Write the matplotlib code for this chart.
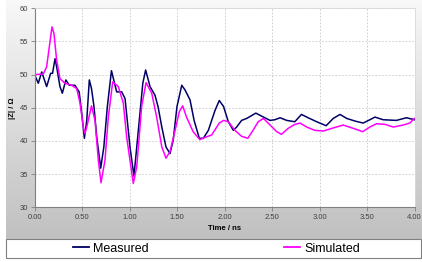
import numpy as np
import matplotlib
matplotlib.use("Agg")
import matplotlib.pyplot as plt
from matplotlib.lines import Line2D
from matplotlib.patches import Rectangle
from matplotlib.colors import LinearSegmentedColormap

plt.rcParams['font.family'] = ['Liberation Sans', 'DejaVu Sans']

# Measured series (time ns, |Z| ohm)
meas_t = [0.0, 0.04, 0.076, 0.128, 0.17, 0.19, 0.216, 0.233, 0.268, 0.293, 0.33, 0.366,
          0.426, 0.47, 0.497, 0.525, 0.55, 0.577, 0.60, 0.626, 0.655, 0.697, 0.73, 0.767,
          0.81, 0.865, 0.918, 0.953, 1.005, 1.047, 1.093, 1.14, 1.17, 1.216, 1.268, 1.30,
          1.34, 1.384, 1.426, 1.46, 1.50, 1.55, 1.584, 1.637, 1.68, 1.735, 1.777, 1.83,
          1.90, 1.945, 1.99, 2.04, 2.093, 2.128, 2.18, 2.234, 2.33, 2.41, 2.48, 2.53,
          2.585, 2.655, 2.74, 2.81, 2.88, 2.97, 3.07, 3.145, 3.216, 3.286, 3.374, 3.46,
          3.53, 3.584, 3.67, 3.81, 3.915, 4.0]
meas_z = [50.0, 48.7, 50.4, 48.2, 50.2, 50.2, 52.4, 51.2, 48.2, 47.2, 49.2, 48.4,
          48.4, 47.4, 44.2, 40.4, 43.1, 49.2, 47.9, 45.2, 40.6, 35.9, 39.1, 45.2,
          50.6, 47.4, 47.4, 46.4, 39.1, 34.7, 41.6, 48.7, 50.7, 48.2, 46.9, 45.2,
          42.1, 39.1, 38.1, 40.1, 45.2, 48.4, 47.7, 46.2, 43.1, 40.4, 40.4, 41.6,
          44.6, 46.1, 45.2, 42.9, 41.6, 42.1, 43.1, 43.4, 44.2, 43.6, 43.1, 43.2,
          43.5, 43.1, 42.9, 44.0, 43.5, 42.9, 42.3, 43.4, 44.0, 43.4, 43.0, 42.7,
          43.2, 43.6, 43.2, 43.1, 43.5, 43.2]

# Simulated series
sim_t = [0.0, 0.093, 0.128, 0.156, 0.184, 0.205, 0.233, 0.268, 0.32, 0.39, 0.444,
         0.479, 0.514, 0.53, 0.55, 0.60, 0.637, 0.672, 0.70, 0.742, 0.777, 0.823,
         0.882, 0.935, 0.97, 1.04, 1.076, 1.128, 1.174, 1.234, 1.286, 1.34, 1.384,
         1.426, 1.48, 1.524, 1.56, 1.60, 1.67, 1.74, 1.805, 1.865, 1.945, 1.99,
         2.04, 2.11, 2.18, 2.245, 2.30, 2.355, 2.41, 2.48, 2.55, 2.60, 2.67, 2.74,
         2.795, 2.865, 2.95, 3.04, 3.13, 3.25, 3.356, 3.455, 3.53, 3.60, 3.69,
         3.777, 3.88, 3.95, 4.0]
sim_z = [50.0, 50.1, 51.2, 54.2, 57.2, 56.2, 52.2, 49.4, 48.7, 48.4, 47.9,
         45.7, 42.1, 41.1, 42.1, 45.3, 43.1, 37.1, 33.7, 37.1, 43.6, 48.9,
         48.2, 45.7, 40.6, 33.6, 36.1, 45.2, 48.8, 47.2, 43.6, 39.1, 37.4,
         38.4, 41.6, 44.4, 45.3, 43.6, 41.4, 40.2, 40.6, 40.9, 42.7, 43.1,
         42.9, 41.6, 40.7, 40.4, 41.6, 42.9, 43.4, 42.4, 41.4, 41.0, 41.9, 42.5,
         42.7, 42.1, 41.6, 41.5, 41.9, 42.4, 41.9, 41.4, 42.1, 42.6, 42.5,
         42.1, 42.4, 42.7, 43.4]

x_ticks = [0.0, 0.5, 1.0, 1.5, 2.0, 2.5, 3.0, 3.5, 4.0]
y_ticks = [30, 35, 40, 45, 50, 55, 60]
series_names = ['Measured', 'Simulated']
series_colors = ['#000066', '#ff00ff']

W, H = 422, 262
fig = plt.figure(figsize=(W / 100, H / 100), dpi=100)
fig.patch.set_facecolor('white')

# Gradient background of chart area
bg = fig.add_axes([6 / W, 1 - 239 / H, 416 / W, 239 / H], zorder=-10)
grad = np.linspace(0, 1, 256).reshape(-1, 1)
cmap = LinearSegmentedColormap.from_list('g', ['#f8f8f8', '#c0c0c0'])
bg.imshow(grad, aspect='auto', cmap=cmap, extent=[0, 1, 0, 1], origin='upper')
bg.axis('off')

ax = fig.add_axes([34.5 / W, 1 - 207.3 / H, 380 / W, (207.3 - 8.3) / H])
ax.set_facecolor('white')
ax.plot(meas_t, meas_z, color=series_colors[0], lw=1.1, solid_joinstyle='round')
ax.plot(sim_t, sim_z, color=series_colors[1], lw=1.1, solid_joinstyle='round')
ax.set_xlim(0, 4)
ax.set_ylim(30, 60)
ax.set_xticks(x_ticks)
ax.set_xticklabels([f"{v:.2f}" for v in x_ticks])
ax.set_yticks(y_ticks)
ax.grid(True, color='#c8c8c8', linestyle=(0, (2, 2)), lw=0.6)
for s in ['top', 'right']:
    ax.spines[s].set_color('#d8d8d8')
    ax.spines[s].set_linewidth(0.6)
for s in ['left', 'bottom']:
    ax.spines[s].set_color('#808080')
    ax.spines[s].set_linewidth(0.8)
ax.tick_params(labelsize=5.5, length=3, width=0.6, direction='out', pad=1.5,
               colors='#808080', labelcolor='#404040')
ax.set_xlabel('Time / ns', fontsize=5.5, fontweight='bold', labelpad=3)
ax.set_ylabel('|Z| / Ω', fontsize=5.5, fontweight='bold', labelpad=3)

# Legend frame
fig.patches.append(Rectangle((6 / W, 1 - 258 / H), 415 / W, 19 / H,
                             transform=fig.transFigure, facecolor='white',
                             edgecolor='#808080', lw=0.8, zorder=5))
centers = [111 / W, 322 / W]
for name, col, cx in zip(series_names, series_colors, centers):
    h = Line2D([], [], color=col, lw=1.3)
    lg = fig.legend([h], [name], loc='center', bbox_to_anchor=(cx, 1 - 248.5 / H),
                    frameon=False, fontsize=9, handlelength=1.3,
                    handletextpad=0.3, borderpad=0, borderaxespad=0)
    lg.set_zorder(6)

fig.savefig('out.png', dpi=100)
